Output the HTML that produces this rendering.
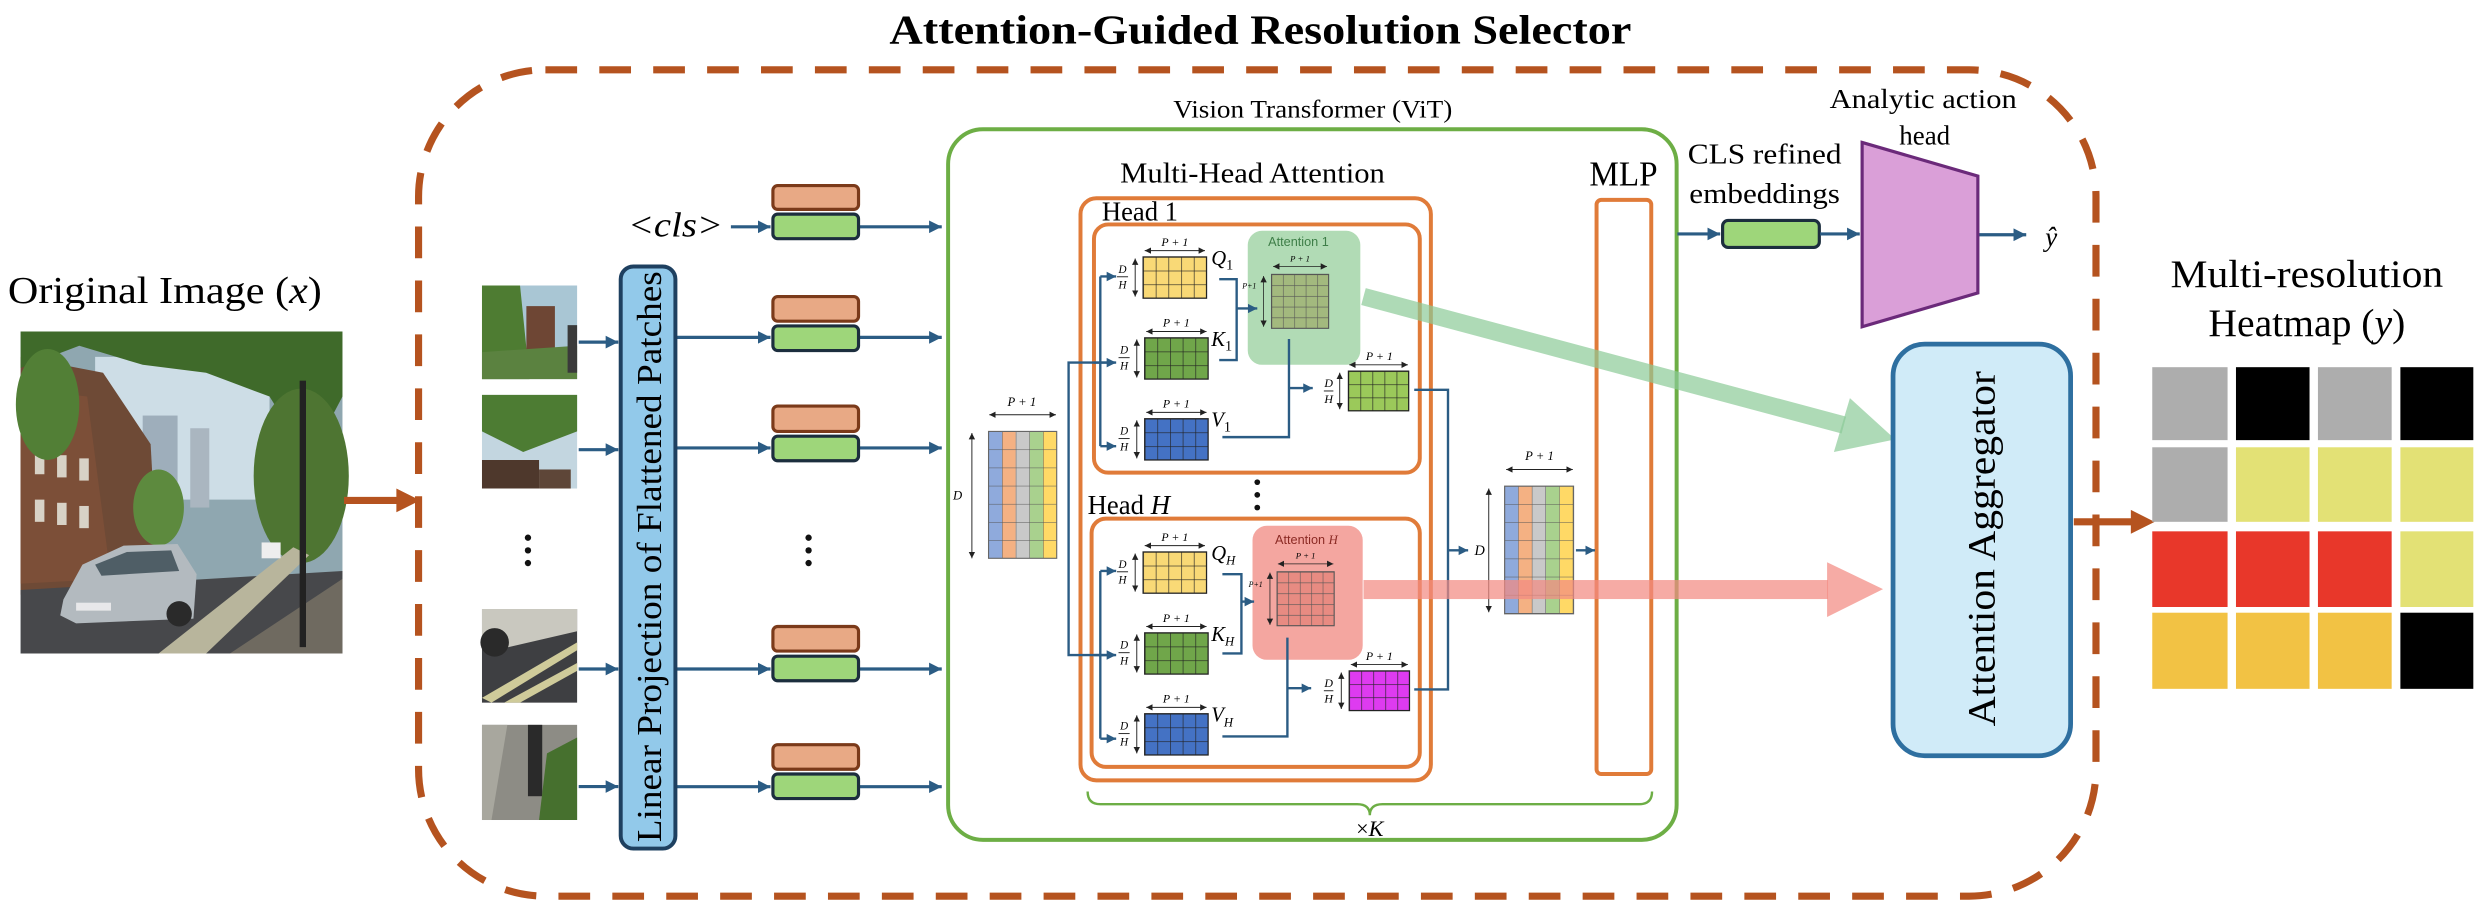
<!DOCTYPE html>
<html><head><meta charset="utf-8"><style>html,body{margin:0;padding:0;background:#fff}svg{display:block}text{font-family:"Liberation Serif",serif}</style></head><body>
<svg width="2486" height="912" viewBox="0 0 1568 575" preserveAspectRatio="none" xmlns="http://www.w3.org/2000/svg">
<defs>
<marker id="ab" markerUnits="userSpaceOnUse" markerWidth="9" markerHeight="9" refX="8" refY="4.5" orient="auto"><path d="M0,0.5 L8,4.5 L0,8.5 z" fill="#2B5C84"/></marker>
<marker id="as" markerUnits="userSpaceOnUse" markerWidth="5" markerHeight="5" refX="4" refY="2.5" orient="auto-start-reverse"><path d="M0,0.5 L4,2.5 L0,4.5 z" fill="#222"/></marker>
<marker id="ab2" markerUnits="userSpaceOnUse" markerWidth="7" markerHeight="7" refX="6" refY="3.5" orient="auto"><path d="M0,0.5 L6,3.5 L0,6.5 z" fill="#2B5C84"/></marker>
<pattern id="gQ" width="8" height="8.667" patternUnits="userSpaceOnUse"><path d="M0 0H8M0 0V8.667" stroke="#222" stroke-width="0.8" fill="none"/></pattern>
<pattern id="gO" width="7.6" height="8.333" patternUnits="userSpaceOnUse"><path d="M0 0H7.6M0 0V8.333" stroke="#222" stroke-width="0.8" fill="none"/></pattern>
<pattern id="gA" width="7.2" height="6.8" patternUnits="userSpaceOnUse"><path d="M0 0H7.2M0 0V6.8" stroke="#555" stroke-width="0.7" fill="none"/></pattern>
<pattern id="gI" width="8.6" height="11.43" patternUnits="userSpaceOnUse"><path d="M0 0H8.6M0 0V11.43" stroke="#555" stroke-width="0.6" fill="none"/></pattern>
<g id="qk">
<text x="20" y="-7" font-size="7.5" font-style="italic" text-anchor="middle">P + 1</text>
<line x1="1" y1="-4" x2="39" y2="-4" stroke="#222" stroke-width="0.6" marker-start="url(#as)" marker-end="url(#as)"/>
<text x="-13" y="10" font-size="7" font-style="italic" text-anchor="middle">D</text>
<line x1="-16.5" y1="12.5" x2="-9.5" y2="12.5" stroke="#222" stroke-width="0.6"/>
<text x="-13" y="20" font-size="7" font-style="italic" text-anchor="middle">H</text>
<line x1="-5" y1="1" x2="-5" y2="25" stroke="#222" stroke-width="0.6" marker-start="url(#as)" marker-end="url(#as)"/>
</g>
<g id="gridQ"><rect width="40" height="26" fill="url(#gQ)"/><rect width="40" height="26" fill="none" stroke="#222" stroke-width="0.8"/></g>
<g id="gridO"><rect width="38" height="25" fill="url(#gO)"/><rect width="38" height="25" fill="none" stroke="#222" stroke-width="0.8"/></g>
</defs>

<text x="795" y="27.5" font-size="26" font-weight="bold" text-anchor="middle" textLength="468" lengthAdjust="spacingAndGlyphs">Attention-Guided Resolution Selector</text>

<rect x="264" y="44" width="1058" height="521" rx="80" ry="80" fill="none" stroke="#B5531F" stroke-width="4.5" stroke-dasharray="20 14"/>

<text x="5" y="191" font-size="24" textLength="198" lengthAdjust="spacingAndGlyphs">Original Image (<tspan font-style="italic">x</tspan>)</text>
<g>
<rect x="13" y="209" width="203" height="203" fill="#8fa7b0"/>
<rect x="60" y="225" width="110" height="90" fill="#cddde6"/>
<rect x="90" y="262" width="22" height="60" fill="#9eaebb"/>
<rect x="120" y="270" width="12" height="50" fill="#aab6c0"/>
<path d="M13 225 L65 235 L95 280 L100 370 L13 375 Z" fill="#6e4a36"/>
<path d="M13 245 L55 250 L70 365 L13 368 Z" fill="#7c4f38"/>
<g fill="#d8d2c6"><rect x="22" y="285" width="6" height="14"/><rect x="36" y="287" width="6" height="14"/><rect x="50" y="289" width="6" height="14"/><rect x="22" y="315" width="6" height="14"/><rect x="36" y="317" width="6" height="14"/><rect x="50" y="319" width="6" height="14"/></g>
<path d="M13 209 L216 209 L216 250 L195 290 L170 250 L130 235 L90 230 L50 218 L13 232 Z" fill="#3f6a2a"/>
<ellipse cx="30" cy="255" rx="20" ry="35" fill="#527f36"/>
<ellipse cx="190" cy="300" rx="30" ry="55" fill="#4e7532"/>
<ellipse cx="100" cy="320" rx="16" ry="24" fill="#5d8a3e"/>
<path d="M13 372 L216 360 L216 412 L13 412 Z" fill="#47484b"/>
<path d="M100 412 L185 345 L195 350 L130 412 Z" fill="#b8b59c"/>
<path d="M145 412 L216 365 L216 412 Z" fill="#6f6a60"/>
<rect x="189" y="240" width="4" height="168" fill="#222"/>
<path d="M40 378 L52 356 L78 344 L112 343 L124 362 L122 390 L48 393 L38 388 Z" fill="#b3babf"/>
<path d="M60 356 L80 348 L108 347 L113 360 L64 363 Z" fill="#4f5e66"/>
<rect x="48" y="380" width="22" height="5" fill="#e8e8ea"/>
<circle cx="113" cy="387" r="8" fill="#2a2a2a"/>
<rect x="165" y="342" width="12" height="10" fill="#eee"/>
</g>
<line x1="217" y1="315.5" x2="252" y2="315.5" stroke="#B5531F" stroke-width="4.5"/>
<path d="M250 308 L265 315.5 L250 323 Z" fill="#B5531F"/>

<g>
<rect x="304" y="180" width="60" height="59" fill="#a9c6d4"/><path d="M304 180 L328 180 L334 239 L304 239 Z" fill="#4e7c32"/><rect x="332" y="193" width="18" height="32" fill="#6e4634"/><path d="M304 222 L364 218 L364 239 L304 239 Z" fill="#5b8240"/><rect x="358" y="205" width="6" height="30" fill="#3a3a3a"/>
<rect x="304" y="249" width="60" height="59" fill="#c3d6e0"/><path d="M304 249 L364 249 L364 272 L330 285 L304 272 Z" fill="#4d7c33"/><path d="M304 290 L340 290 L340 308 L304 308 Z" fill="#4e382c"/><rect x="340" y="296" width="20" height="12" fill="#5e4638"/>
<rect x="304" y="384" width="60" height="59" fill="#3e3f42"/><path d="M304 384 L364 384 L364 398 L312 410 L304 405 Z" fill="#c9c8bf"/><circle cx="312" cy="405" r="9" fill="#2a2a2a"/><path d="M304 440 L364 405 L364 410 L310 443 Z" fill="#cfcb9a"/><path d="M318 443 L364 418 L364 423 L328 443 Z" fill="#cfcb9a"/>
<rect x="304" y="457" width="60" height="60" fill="#8d8c85"/><rect x="333" y="457" width="9" height="45" fill="#2a2a2a"/><path d="M345 475 L364 465 L364 517 L340 517 Z" fill="#46702e"/><path d="M304 457 L320 457 L310 517 L304 517 Z" fill="#a8a79e"/>
</g>
<g fill="#111"><circle cx="333" cy="339" r="2"/><circle cx="333" cy="347" r="2"/><circle cx="333" cy="355" r="2"/><circle cx="510" cy="339" r="2"/><circle cx="510" cy="347" r="2"/><circle cx="510" cy="355" r="2"/></g>
<g stroke="#2B5C84" stroke-width="2" marker-end="url(#ab)">
<line x1="365" y1="215.7" x2="390" y2="215.7"/><line x1="365" y1="283.5" x2="390" y2="283.5"/><line x1="365" y1="421.8" x2="390" y2="421.8"/><line x1="365" y1="495.9" x2="390" y2="495.9"/>
<line x1="427" y1="212.7" x2="486" y2="212.7"/><line x1="427" y1="282.4" x2="486" y2="282.4"/><line x1="427" y1="421.8" x2="486" y2="421.8"/><line x1="427" y1="496" x2="486" y2="496"/>
<line x1="461" y1="143" x2="486" y2="143"/>
<line x1="542" y1="143" x2="594" y2="143"/><line x1="542" y1="212.7" x2="594" y2="212.7"/><line x1="542" y1="282.4" x2="594" y2="282.4"/><line x1="542" y1="421.8" x2="594" y2="421.8"/><line x1="542" y1="496" x2="594" y2="496"/>
</g>
<rect x="391.5" y="168" width="34.5" height="367" rx="8" fill="#92C9EA" stroke="#1E4060" stroke-width="2.5"/>
<text transform="translate(417,351) rotate(-90)" font-size="22" text-anchor="middle" textLength="360" lengthAdjust="spacingAndGlyphs">Linear Projection of Flattened Patches</text>
<text x="396" y="149" font-size="22" font-style="italic" textLength="60" lengthAdjust="spacingAndGlyphs">&lt;cls&gt;</text>
<g stroke-width="2">
<rect x="487.5" y="117" width="54" height="15" rx="3" fill="#E8A985" stroke="#7B3A1A"/><rect x="487.5" y="135" width="54" height="15.5" rx="3" fill="#9ED67A" stroke="#1C2E3E"/>
<rect x="487.5" y="187" width="54" height="15.5" rx="3" fill="#E8A985" stroke="#7B3A1A"/><rect x="487.5" y="205.5" width="54" height="15.5" rx="3" fill="#9ED67A" stroke="#1C2E3E"/>
<rect x="487.5" y="256" width="54" height="16" rx="3" fill="#E8A985" stroke="#7B3A1A"/><rect x="487.5" y="275" width="54" height="15.5" rx="3" fill="#9ED67A" stroke="#1C2E3E"/>
<rect x="487.5" y="395" width="54" height="15.5" rx="3" fill="#E8A985" stroke="#7B3A1A"/><rect x="487.5" y="413.7" width="54" height="15.5" rx="3" fill="#9ED67A" stroke="#1C2E3E"/>
<rect x="487.5" y="469.5" width="54" height="15.5" rx="3" fill="#E8A985" stroke="#7B3A1A"/><rect x="487.5" y="488" width="54" height="15.5" rx="3" fill="#9ED67A" stroke="#1C2E3E"/>
</g>

<rect x="598" y="81.5" width="459.5" height="448" rx="22" fill="none" stroke="#6DAE45" stroke-width="2.5"/>
<text x="828" y="74" font-size="16" text-anchor="middle" textLength="176" lengthAdjust="spacingAndGlyphs">Vision Transformer (ViT)</text>
<text x="790" y="115" font-size="18" text-anchor="middle" textLength="167" lengthAdjust="spacingAndGlyphs">Multi-Head Attention</text>
<text x="1024" y="117" font-size="22" text-anchor="middle" textLength="43" lengthAdjust="spacingAndGlyphs">MLP</text>
<rect x="1007" y="126" width="34.5" height="362" rx="3" fill="none" stroke="#E07B39" stroke-width="2.5"/>

<rect x="681.5" y="125" width="221" height="367" rx="10" fill="none" stroke="#E07B39" stroke-width="2.5"/>
<text x="695" y="139" font-size="17" textLength="48" lengthAdjust="spacingAndGlyphs">Head 1</text>
<rect x="690" y="141.5" width="205.5" height="156.5" rx="9" fill="none" stroke="#E07B39" stroke-width="2.5"/>
<text x="686" y="324" font-size="17" textLength="52" lengthAdjust="spacingAndGlyphs">Head <tspan font-style="italic">H</tspan></text>
<rect x="688.5" y="327" width="207" height="156.5" rx="9" fill="none" stroke="#E07B39" stroke-width="2.5"/>
<g fill="#111"><circle cx="793" cy="304" r="1.8"/><circle cx="793" cy="312" r="1.8"/><circle cx="793" cy="320" r="1.8"/></g>

<g transform="translate(623.5,272)">
<rect x="0" width="8.6" height="80" fill="#8FAADC"/><rect x="8.6" width="8.6" height="80" fill="#F4B183"/><rect x="17.2" width="8.6" height="80" fill="#C9C9C9"/><rect x="25.8" width="8.6" height="80" fill="#A9D18E"/><rect x="34.4" width="8.6" height="80" fill="#FFD966"/>
<rect width="43" height="80" fill="url(#gI)"/><rect width="43" height="80" fill="none" stroke="#666" stroke-width="0.7"/>
</g>
<text x="644.5" y="256" font-size="8" font-style="italic" text-anchor="middle">P + 1</text>
<line x1="624" y1="261.5" x2="666" y2="261.5" stroke="#222" stroke-width="0.6" marker-start="url(#as)" marker-end="url(#as)"/>
<line x1="613" y1="273" x2="613" y2="352" stroke="#222" stroke-width="0.6" marker-start="url(#as)" marker-end="url(#as)"/>
<text x="604" y="315" font-size="8" font-style="italic" text-anchor="middle">D</text>

<g stroke="#2B5C84" stroke-width="1.5" fill="none">
<polyline points="703,228.6 674,228.6 674,413 703,413"/>
<line x1="694" y1="174.3" x2="694" y2="281.3"/><line x1="694" y1="360" x2="694" y2="465.7"/>
</g>
<g stroke="#2B5C84" stroke-width="1.5" marker-end="url(#ab2)">
<line x1="694" y1="174.3" x2="704" y2="174.3"/><line x1="690" y1="228.6" x2="704" y2="228.6"/><line x1="694" y1="281.3" x2="704" y2="281.3"/>
<line x1="694" y1="360" x2="704" y2="360"/><line x1="690" y1="413" x2="704" y2="413"/><line x1="694" y1="465.7" x2="704" y2="465.7"/>
</g>

<g transform="translate(721,162)"><rect width="40" height="26" fill="#F9D976"/><use href="#gridQ"/><use href="#qk"/></g>
<g transform="translate(722,213)"><rect width="40" height="26" fill="#70A64A"/><use href="#gridQ"/><use href="#qk"/></g>
<g transform="translate(722,264)"><rect width="40" height="26" fill="#4472C4"/><use href="#gridQ"/><use href="#qk"/></g>
<text x="764" y="167" font-size="13" font-style="italic">Q<tspan font-size="9" font-style="normal" dy="3">1</tspan></text>
<text x="764" y="218" font-size="13" font-style="italic">K<tspan font-size="9" font-style="normal" dy="3">1</tspan></text>
<text x="764" y="269" font-size="13" font-style="italic">V<tspan font-size="9" font-style="normal" dy="3">1</tspan></text>
<g transform="translate(721,348)"><rect width="40" height="26" fill="#F9D976"/><use href="#gridQ"/><use href="#qk"/></g>
<g transform="translate(722,399)"><rect width="40" height="26" fill="#70A64A"/><use href="#gridQ"/><use href="#qk"/></g>
<g transform="translate(722,450)"><rect width="40" height="26" fill="#4472C4"/><use href="#gridQ"/><use href="#qk"/></g>
<text x="764" y="353" font-size="13" font-style="italic">Q<tspan font-size="8" dy="3">H</tspan></text>
<text x="764" y="404" font-size="13" font-style="italic">K<tspan font-size="8" dy="3">H</tspan></text>
<text x="764" y="455" font-size="13" font-style="italic">V<tspan font-size="8" dy="3">H</tspan></text>

<rect x="787" y="145.5" width="71" height="84.5" rx="9" fill="#B1DBB5"/>
<text x="819" y="155" font-size="8" fill="#3E7E48" text-anchor="middle" style="font-family:'Liberation Sans',sans-serif">Attention 1</text>
<g transform="translate(802,173)"><rect width="36" height="34" fill="#A3B97E"/><rect width="36" height="34" fill="url(#gA)"/><rect width="36" height="34" fill="none" stroke="#555" stroke-width="0.7"/></g>
<text x="820" y="165" font-size="5.5" font-style="italic" text-anchor="middle">P + 1</text>
<line x1="803" y1="168" x2="837" y2="168" stroke="#222" stroke-width="0.5" marker-start="url(#as)" marker-end="url(#as)"/>
<line x1="797" y1="174" x2="797" y2="206" stroke="#222" stroke-width="0.5" marker-start="url(#as)" marker-end="url(#as)"/>
<text x="788" y="182" font-size="5" font-style="italic" text-anchor="middle">P+1</text>

<rect x="790" y="331.5" width="69.5" height="84.5" rx="9" fill="#F4A6A0"/>
<text x="824" y="343" font-size="8" fill="#8B2A24" text-anchor="middle" style="font-family:'Liberation Sans',sans-serif">Attention <tspan font-style="italic" style="font-family:'Liberation Serif',serif">H</tspan></text>
<g transform="translate(805.5,360.5)"><rect width="36" height="34" fill="#E88B82"/><rect width="36" height="34" fill="url(#gA)"/><rect width="36" height="34" fill="none" stroke="#555" stroke-width="0.7"/></g>
<text x="823.5" y="352" font-size="5.5" font-style="italic" text-anchor="middle">P + 1</text>
<line x1="806" y1="355.5" x2="841" y2="355.5" stroke="#222" stroke-width="0.5" marker-start="url(#as)" marker-end="url(#as)"/>
<line x1="801" y1="361" x2="801" y2="394" stroke="#222" stroke-width="0.5" marker-start="url(#as)" marker-end="url(#as)"/>
<text x="792" y="370" font-size="5" font-style="italic" text-anchor="middle">P+1</text>

<g stroke="#2B5C84" stroke-width="1.5" fill="none">
<polyline points="769,176 780,176 780,227 769,227"/>
<polyline points="771,275.6 813,275.6 813,213.7"/>
<polyline points="771,362 783,362 783,412 771,412"/>
<polyline points="771,464.3 812,464.3 812,402"/>
<polyline points="892,245.8 913.3,245.8 913.3,434.7 892,434.7"/>
</g>
<g stroke="#2B5C84" stroke-width="1.5" marker-end="url(#ab2)">
<line x1="780" y1="194.5" x2="793" y2="194.5"/>
<line x1="813" y1="244.7" x2="828" y2="244.7"/>
<line x1="783" y1="379.3" x2="791" y2="379.3"/>
<line x1="812" y1="433.9" x2="827" y2="433.9"/>
<line x1="913" y1="347" x2="926" y2="347"/>
<line x1="994" y1="347" x2="1006" y2="347"/>
</g>
<text x="930" y="350" font-size="9" font-style="italic">D</text>

<g transform="translate(850.5,234)"><rect width="38" height="25" fill="#9BC95A"/><use href="#gridO"/></g>
<g transform="translate(851,423)"><rect width="38" height="25" fill="#DE3BF0"/><use href="#gridO"/></g>
<g font-size="7.5" font-style="italic" text-anchor="middle">
<text x="870" y="227">P + 1</text><text x="870" y="416">P + 1</text>
<text x="838" y="244">D</text><text x="838" y="254">H</text>
<text x="838" y="433">D</text><text x="838" y="443">H</text>
</g>
<g stroke="#222" stroke-width="0.6">
<line x1="851" y1="230" x2="888" y2="230" marker-start="url(#as)" marker-end="url(#as)"/>
<line x1="852" y1="419" x2="888" y2="419" marker-start="url(#as)" marker-end="url(#as)"/>
<line x1="835" y1="246.5" x2="841" y2="246.5"/><line x1="835" y1="435.5" x2="841" y2="435.5"/>
<line x1="845" y1="235" x2="845" y2="258" marker-start="url(#as)" marker-end="url(#as)"/>
<line x1="846" y1="424" x2="846" y2="447" marker-start="url(#as)" marker-end="url(#as)"/>
</g>

<g transform="translate(949,306.5)">
<rect x="0" width="8.7" height="80.5" fill="#8FAADC"/><rect x="8.7" width="8.7" height="80.5" fill="#F4B183"/><rect x="17.4" width="8.7" height="80.5" fill="#C9C9C9"/><rect x="26.1" width="8.7" height="80.5" fill="#A9D18E"/><rect x="34.8" width="8.7" height="80.5" fill="#FFD966"/>
<rect width="43.5" height="80.5" fill="url(#gI)"/><rect width="43.5" height="80.5" fill="none" stroke="#666" stroke-width="0.7"/>
</g>
<text x="971" y="290" font-size="8" font-style="italic" text-anchor="middle">P + 1</text>
<line x1="950" y1="296" x2="992" y2="296" stroke="#222" stroke-width="0.6" marker-start="url(#as)" marker-end="url(#as)"/>
<line x1="939" y1="308" x2="939" y2="386" stroke="#222" stroke-width="0.6" marker-start="url(#as)" marker-end="url(#as)"/>

<path d="M686,499 Q686,507 694,507 L856,507 Q864,507 864,514 Q864,507 872,507 L1034,507 Q1042,507 1042,499" fill="none" stroke="#6DAE45" stroke-width="1.5"/>
<text x="864" y="527" font-size="14" text-anchor="middle">×<tspan font-style="italic">K</tspan></text>

<line x1="860" y1="187" x2="1163" y2="268" stroke="#8CCB98" stroke-width="11" opacity="0.7"/>
<path d="M1166.8,251 L1195.4,277 L1156.7,285 Z" fill="#8CCB98" opacity="0.7"/>
<rect x="860" y="365.7" width="293" height="12" fill="#F28B82" opacity="0.72"/>
<path d="M1152.4,354.5 L1187.7,371.4 L1152.4,389 Z" fill="#F28B82" opacity="0.72"/>

<text x="1113" y="103" font-size="18" text-anchor="middle" textLength="97" lengthAdjust="spacingAndGlyphs">CLS refined</text>
<text x="1113" y="128" font-size="18" text-anchor="middle" textLength="95" lengthAdjust="spacingAndGlyphs">embeddings</text>
<rect x="1086.5" y="139" width="61" height="17" rx="3.5" fill="#9ED67A" stroke="#1C2E3E" stroke-width="2"/>
<g stroke="#2B5C84" stroke-width="2" marker-end="url(#ab)">
<line x1="1058" y1="147.5" x2="1085" y2="147.5"/><line x1="1148" y1="147.5" x2="1173" y2="147.5"/><line x1="1248" y1="148" x2="1278" y2="148"/>
</g>
<path d="M1174.5,89.8 L1247.5,111 L1247.5,184.7 L1174.5,206 Z" fill="#DA9FD8" stroke="#6B2A7A" stroke-width="2"/>
<text x="1213" y="68" font-size="17" text-anchor="middle" textLength="118" lengthAdjust="spacingAndGlyphs">Analytic action</text>
<text x="1214" y="91" font-size="17" text-anchor="middle">head</text>
<text x="1290" y="155" font-size="17" font-style="italic">ŷ</text>

<rect x="1194" y="217" width="112" height="259.5" rx="20" fill="#D0EBF8" stroke="#2E6FA0" stroke-width="3"/>
<text transform="translate(1258,346) rotate(-90)" font-size="25" text-anchor="middle" textLength="224" lengthAdjust="spacingAndGlyphs">Attention Aggregator</text>
<line x1="1308" y1="329" x2="1346" y2="329" stroke="#B5531F" stroke-width="4.5"/>
<path d="M1344,321.5 L1359,329 L1344,336.5 Z" fill="#B5531F"/>

<text x="1455" y="181" font-size="25" text-anchor="middle" textLength="172" lengthAdjust="spacingAndGlyphs">Multi-resolution</text>
<text x="1455" y="212" font-size="25" text-anchor="middle">Heatmap (<tspan font-style="italic">y</tspan>)</text>
<g>
<rect x="1357.5" y="231.5" width="47.5" height="46" fill="#ADADAD"/><rect x="1410.3" y="231.5" width="46.4" height="46" fill="#000"/><rect x="1462" y="231.5" width="46.5" height="46" fill="#ADADAD"/><rect x="1514" y="231.5" width="46" height="46" fill="#000"/>
<rect x="1357.5" y="282" width="47.5" height="47" fill="#ADADAD"/><rect x="1410.3" y="282" width="46.4" height="47" fill="#E3E175"/><rect x="1462" y="282" width="46.5" height="47" fill="#E3E175"/><rect x="1514" y="282" width="46" height="47" fill="#E3E175"/>
<rect x="1357.5" y="335" width="47.5" height="47.7" fill="#E8372A"/><rect x="1410.3" y="335" width="46.4" height="47.7" fill="#E8372A"/><rect x="1462" y="335" width="46.5" height="47.7" fill="#E8372A"/><rect x="1514" y="335" width="46" height="47.7" fill="#E3E175"/>
<rect x="1357.5" y="386.3" width="47.5" height="48" fill="#F2C244"/><rect x="1410.3" y="386.3" width="46.4" height="48" fill="#F2C244"/><rect x="1462" y="386.3" width="46.5" height="48" fill="#F2C244"/><rect x="1514" y="386.3" width="46" height="48" fill="#000"/>
</g>
</svg>
</body></html>
